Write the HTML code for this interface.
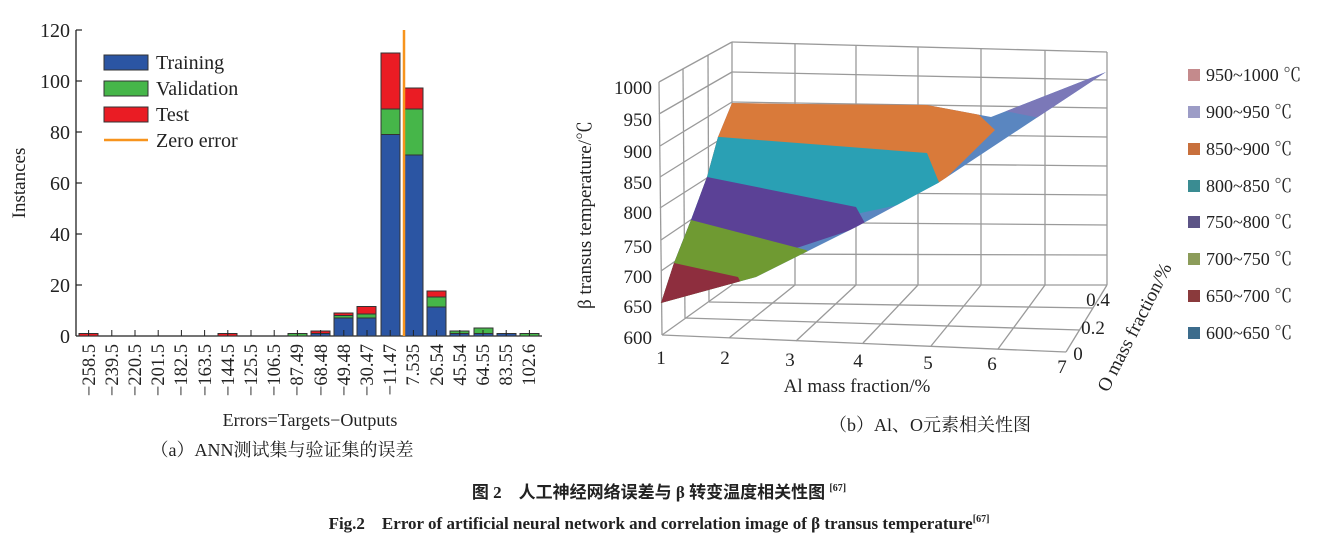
<!DOCTYPE html>
<html><head><meta charset="utf-8"><style>
html,body{margin:0;padding:0;background:#fff;}
svg{display:block;font-family:"Liberation Serif","Noto Serif CJK SC",serif;}
</style></head><body>
<svg width="1318" height="542" viewBox="0 0 1318 542" xmlns="http://www.w3.org/2000/svg">
<!-- LEFT CHART -->
<g fill="#222" font-size="20">
<line x1="76" y1="30" x2="76" y2="336" stroke="#222" stroke-width="1.3"/>
<line x1="76" y1="336" x2="542" y2="336" stroke="#222" stroke-width="1.3"/>
<g stroke="#222" stroke-width="1.2">
<line x1="76" y1="30" x2="82" y2="30"/><line x1="76" y1="81" x2="82" y2="81"/><line x1="76" y1="132" x2="82" y2="132"/><line x1="76" y1="183" x2="82" y2="183"/><line x1="76" y1="234" x2="82" y2="234"/><line x1="76" y1="285" x2="82" y2="285"/>
</g>
<g text-anchor="end">
<text x="70" y="37">120</text><text x="70" y="88">100</text><text x="70" y="139">80</text><text x="70" y="190">60</text><text x="70" y="241">40</text><text x="70" y="292">20</text><text x="70" y="343">0</text>
</g>
<text transform="translate(25,183) rotate(-90)" text-anchor="middle" font-size="19">Instances</text>
</g>
<g stroke="#333" stroke-width="1">
<rect x="79" y="333.5" width="19" height="2.5" fill="#ea1c24"/>
<rect x="218" y="333.5" width="19" height="2.5" fill="#ea1c24"/>
<rect x="288" y="333.5" width="19" height="2.5" fill="#46b649"/>
<rect x="311" y="333.5" width="19" height="2.5" fill="#2b55a3"/><rect x="311" y="331" width="19" height="2.5" fill="#ea1c24"/>
<rect x="334" y="318" width="19" height="18" fill="#2b55a3"/><rect x="334" y="315.5" width="19" height="2.5" fill="#46b649"/><rect x="334" y="313" width="19" height="2.5" fill="#ea1c24"/>
<rect x="357" y="318" width="19" height="18" fill="#2b55a3"/><rect x="357" y="314" width="19" height="4" fill="#46b649"/><rect x="357" y="306.5" width="19" height="7.5" fill="#ea1c24"/>
<rect x="381" y="134.5" width="19" height="201.5" fill="#2b55a3"/><rect x="381" y="109" width="19" height="25.5" fill="#46b649"/><rect x="381" y="53" width="19" height="56" fill="#ea1c24"/>
<rect x="404" y="155" width="19" height="181" fill="#2b55a3"/><rect x="404" y="109" width="19" height="46" fill="#46b649"/><rect x="404" y="88" width="19" height="21" fill="#ea1c24"/>
<rect x="427" y="307" width="19" height="29" fill="#2b55a3"/><rect x="427" y="297" width="19" height="10" fill="#46b649"/><rect x="427" y="291" width="19" height="6" fill="#ea1c24"/>
<rect x="450" y="333.5" width="19" height="2.5" fill="#2b55a3"/><rect x="450" y="331" width="19" height="2.5" fill="#46b649"/>
<rect x="474" y="333.5" width="19" height="2.5" fill="#2b55a3"/><rect x="474" y="328" width="19" height="5.5" fill="#46b649"/>
<rect x="497" y="333.5" width="19" height="2.5" fill="#2b55a3"/>
<rect x="520" y="333.5" width="19" height="2.5" fill="#46b649"/>
</g>
<line x1="404" y1="30" x2="404" y2="336" stroke="#f7941d" stroke-width="2.5"/>
<g stroke="#222" stroke-width="1">
<line x1="88.6" y1="336" x2="88.6" y2="330"/><line x1="111.8" y1="336" x2="111.8" y2="330"/><line x1="135" y1="336" x2="135" y2="330"/><line x1="158.2" y1="336" x2="158.2" y2="330"/><line x1="181.4" y1="336" x2="181.4" y2="330"/><line x1="204.6" y1="336" x2="204.6" y2="330"/><line x1="227.8" y1="336" x2="227.8" y2="330"/><line x1="251" y1="336" x2="251" y2="330"/><line x1="274.2" y1="336" x2="274.2" y2="330"/><line x1="297.4" y1="336" x2="297.4" y2="330"/><line x1="320.6" y1="336" x2="320.6" y2="330"/><line x1="343.8" y1="336" x2="343.8" y2="330"/><line x1="367" y1="336" x2="367" y2="330"/><line x1="390.2" y1="336" x2="390.2" y2="330"/><line x1="413.4" y1="336" x2="413.4" y2="330"/><line x1="436.6" y1="336" x2="436.6" y2="330"/><line x1="459.8" y1="336" x2="459.8" y2="330"/><line x1="483" y1="336" x2="483" y2="330"/><line x1="506.2" y1="336" x2="506.2" y2="330"/><line x1="529.4" y1="336" x2="529.4" y2="330"/>
</g>
<g font-size="18.5" fill="#222" text-anchor="end">
<text transform="translate(95,344) rotate(-90)">−258.5</text>
<text transform="translate(118,344) rotate(-90)">−239.5</text>
<text transform="translate(141,344) rotate(-90)">−220.5</text>
<text transform="translate(164,344) rotate(-90)">−201.5</text>
<text transform="translate(187,344) rotate(-90)">−182.5</text>
<text transform="translate(211,344) rotate(-90)">−163.5</text>
<text transform="translate(234,344) rotate(-90)">−144.5</text>
<text transform="translate(257,344) rotate(-90)">−125.5</text>
<text transform="translate(280,344) rotate(-90)">−106.5</text>
<text transform="translate(303,344) rotate(-90)">−87.49</text>
<text transform="translate(327,344) rotate(-90)">−68.48</text>
<text transform="translate(350,344) rotate(-90)">−49.48</text>
<text transform="translate(373,344) rotate(-90)">−30.47</text>
<text transform="translate(396,344) rotate(-90)">−11.47</text>
<text transform="translate(419,344) rotate(-90)">7.535</text>
<text transform="translate(443,344) rotate(-90)">26.54</text>
<text transform="translate(466,344) rotate(-90)">45.54</text>
<text transform="translate(489,344) rotate(-90)">64.55</text>
<text transform="translate(512,344) rotate(-90)">83.55</text>
<text transform="translate(535,344) rotate(-90)">102.6</text>
</g>
<text x="310" y="426" text-anchor="middle" font-size="18" fill="#222">Errors=Targets−Outputs</text>
<g stroke="#333" stroke-width="1">
<rect x="104" y="55" width="44" height="15" fill="#2b55a3"/>
<rect x="104" y="81" width="44" height="15" fill="#46b649"/>
<rect x="104" y="107" width="44" height="15" fill="#ea1c24"/>
</g>
<line x1="104" y1="140" x2="148" y2="140" stroke="#f7941d" stroke-width="2.5"/>
<g font-size="20" fill="#222">
<text x="156" y="69">Training</text><text x="156" y="95">Validation</text><text x="156" y="121">Test</text><text x="156" y="147">Zero error</text>
</g>
<text x="282" y="456" text-anchor="middle" font-size="18" fill="#222">（a）ANN测试集与验证集的误差</text>

<!-- RIGHT CHART -->
<g stroke="#9a9a9a" stroke-width="1.3" fill="none">
<line x1="732" y1="42" x2="732" y2="285"/><line x1="795" y1="44" x2="795" y2="285"/><line x1="856" y1="45" x2="856" y2="285"/><line x1="918" y1="47" x2="918" y2="285"/><line x1="981" y1="48" x2="981" y2="285"/><line x1="1045" y1="50" x2="1045" y2="285"/><line x1="1107" y1="52" x2="1107" y2="285"/>
<line x1="732" y1="42" x2="1107" y2="52"/><line x1="732" y1="72" x2="1107" y2="80"/><line x1="732" y1="102" x2="1107" y2="108"/><line x1="732" y1="132" x2="1107" y2="137"/><line x1="732" y1="162" x2="1107" y2="166"/><line x1="732" y1="192" x2="1107" y2="195"/><line x1="732" y1="222" x2="1107" y2="225"/><line x1="732" y1="254" x2="1107" y2="255"/><line x1="732" y1="285" x2="1107" y2="285"/>
<line x1="659" y1="82" x2="732" y2="42"/><line x1="659" y1="114" x2="732" y2="72"/><line x1="660" y1="146" x2="732" y2="102"/><line x1="660" y1="177" x2="732" y2="132"/><line x1="660" y1="208" x2="732" y2="162"/><line x1="661" y1="240" x2="732" y2="192"/><line x1="661" y1="271" x2="732" y2="222"/><line x1="661" y1="303" x2="732" y2="254"/><line x1="662" y1="335" x2="732" y2="285"/>
<line x1="659" y1="82" x2="662" y2="335"/><line x1="683" y1="69" x2="685" y2="318"/><line x1="708" y1="55" x2="709" y2="302"/>
<line x1="662" y1="335" x2="1066" y2="352"/><line x1="685" y1="318" x2="1080" y2="330"/><line x1="709" y1="302" x2="1093" y2="308"/>
<line x1="1066" y1="352" x2="1107" y2="285"/>
<line x1="729" y1="338" x2="795" y2="285"/><line x1="796" y1="341" x2="856" y2="285"/><line x1="863" y1="343" x2="918" y2="285"/><line x1="931" y1="346" x2="981" y2="285"/><line x1="998" y1="349" x2="1045" y2="285"/>
</g>
<defs><clipPath id="surf"><polygon points="661,303 674,263 691,220 707,177 718,137 732,103 800,104 927,105 991,117 1106,72 938,183 856,227 756,277"/></clipPath></defs>
<g clip-path="url(#surf)">
<rect x="640" y="60" width="480" height="260" fill="#5a86c0"/>
<polygon points="640,60 970,60 977,113 995,130 941,183 640,200" fill="#d97a3a"/>
<polygon points="640,137 720,137 927,153 938,180 945,195 640,260" fill="#2aa0b4"/>
<polygon points="640,177 707,177 856,207 866,225 640,300" fill="#5b4196"/>
<polygon points="640,220 691,220 806,250 820,260 640,320" fill="#6f9a32"/>
<polygon points="640,263 674,263 738,277 760,320 640,320" fill="#8e2e3e"/>
<polygon points="1000,110 1106,72 1050,120" fill="#7b78b8"/>
</g>
<g font-size="19" fill="#222" text-anchor="end">
<text x="652" y="94">1000</text><text x="652" y="126">950</text><text x="652" y="158">900</text><text x="652" y="189">850</text><text x="652" y="219">800</text><text x="652" y="253">750</text><text x="652" y="283">700</text><text x="652" y="313">650</text><text x="652" y="344">600</text>
</g>
<text transform="translate(591,215) rotate(-90)" text-anchor="middle" font-size="19" fill="#222">β transus temperature/℃</text>
<g font-size="19" fill="#222" text-anchor="middle">
<text x="661" y="364">1</text><text x="725" y="364">2</text><text x="790" y="366">3</text><text x="858" y="367">4</text><text x="928" y="369">5</text><text x="992" y="370">6</text><text x="1062" y="373">7</text>
<text x="1098" y="306">0.4</text><text x="1093" y="334">0.2</text><text x="1078" y="360">0</text>
</g>
<text x="857" y="392" text-anchor="middle" font-size="19" fill="#222">Al mass fraction/%</text>
<text transform="translate(1140,330) rotate(-63)" text-anchor="middle" font-size="19" fill="#222">O mass fraction/%</text>
<g>
<rect x="1188" y="69" width="12" height="12" fill="#c48a8c"/>
<rect x="1188" y="106" width="12" height="12" fill="#9c9cc6"/>
<rect x="1188" y="143" width="12" height="12" fill="#c8703c"/>
<rect x="1188" y="180" width="12" height="12" fill="#3a8c92"/>
<rect x="1188" y="216" width="12" height="12" fill="#5c5486"/>
<rect x="1188" y="253" width="12" height="12" fill="#8c9c5a"/>
<rect x="1188" y="290" width="12" height="12" fill="#8a3a3c"/>
<rect x="1188" y="327" width="12" height="12" fill="#3c6c8c"/>
</g>
<g font-size="18" fill="#222">
<text x="1206" y="81">950~1000 ℃</text><text x="1206" y="118">900~950 ℃</text><text x="1206" y="155">850~900 ℃</text><text x="1206" y="192">800~850 ℃</text><text x="1206" y="228">750~800 ℃</text><text x="1206" y="265">700~750 ℃</text><text x="1206" y="302">650~700 ℃</text><text x="1206" y="339">600~650 ℃</text>
</g>
<text x="930" y="431" text-anchor="middle" font-size="18" fill="#222">（b）Al、O元素相关性图</text>
<text x="659" y="498" text-anchor="middle" font-size="17" font-weight="bold" fill="#222" font-family="'Liberation Serif','Noto Sans CJK SC',serif">图 2　人工神经网络误差与 β 转变温度相关性图 <tspan font-size="10" dy="-7">[67]</tspan></text>
<text x="659" y="529" text-anchor="middle" font-size="17" font-weight="bold" fill="#222">Fig.2　Error of artificial neural network and correlation image of β transus temperature<tspan font-size="10" dy="-7">[67]</tspan></text>
</svg>
</body></html>
